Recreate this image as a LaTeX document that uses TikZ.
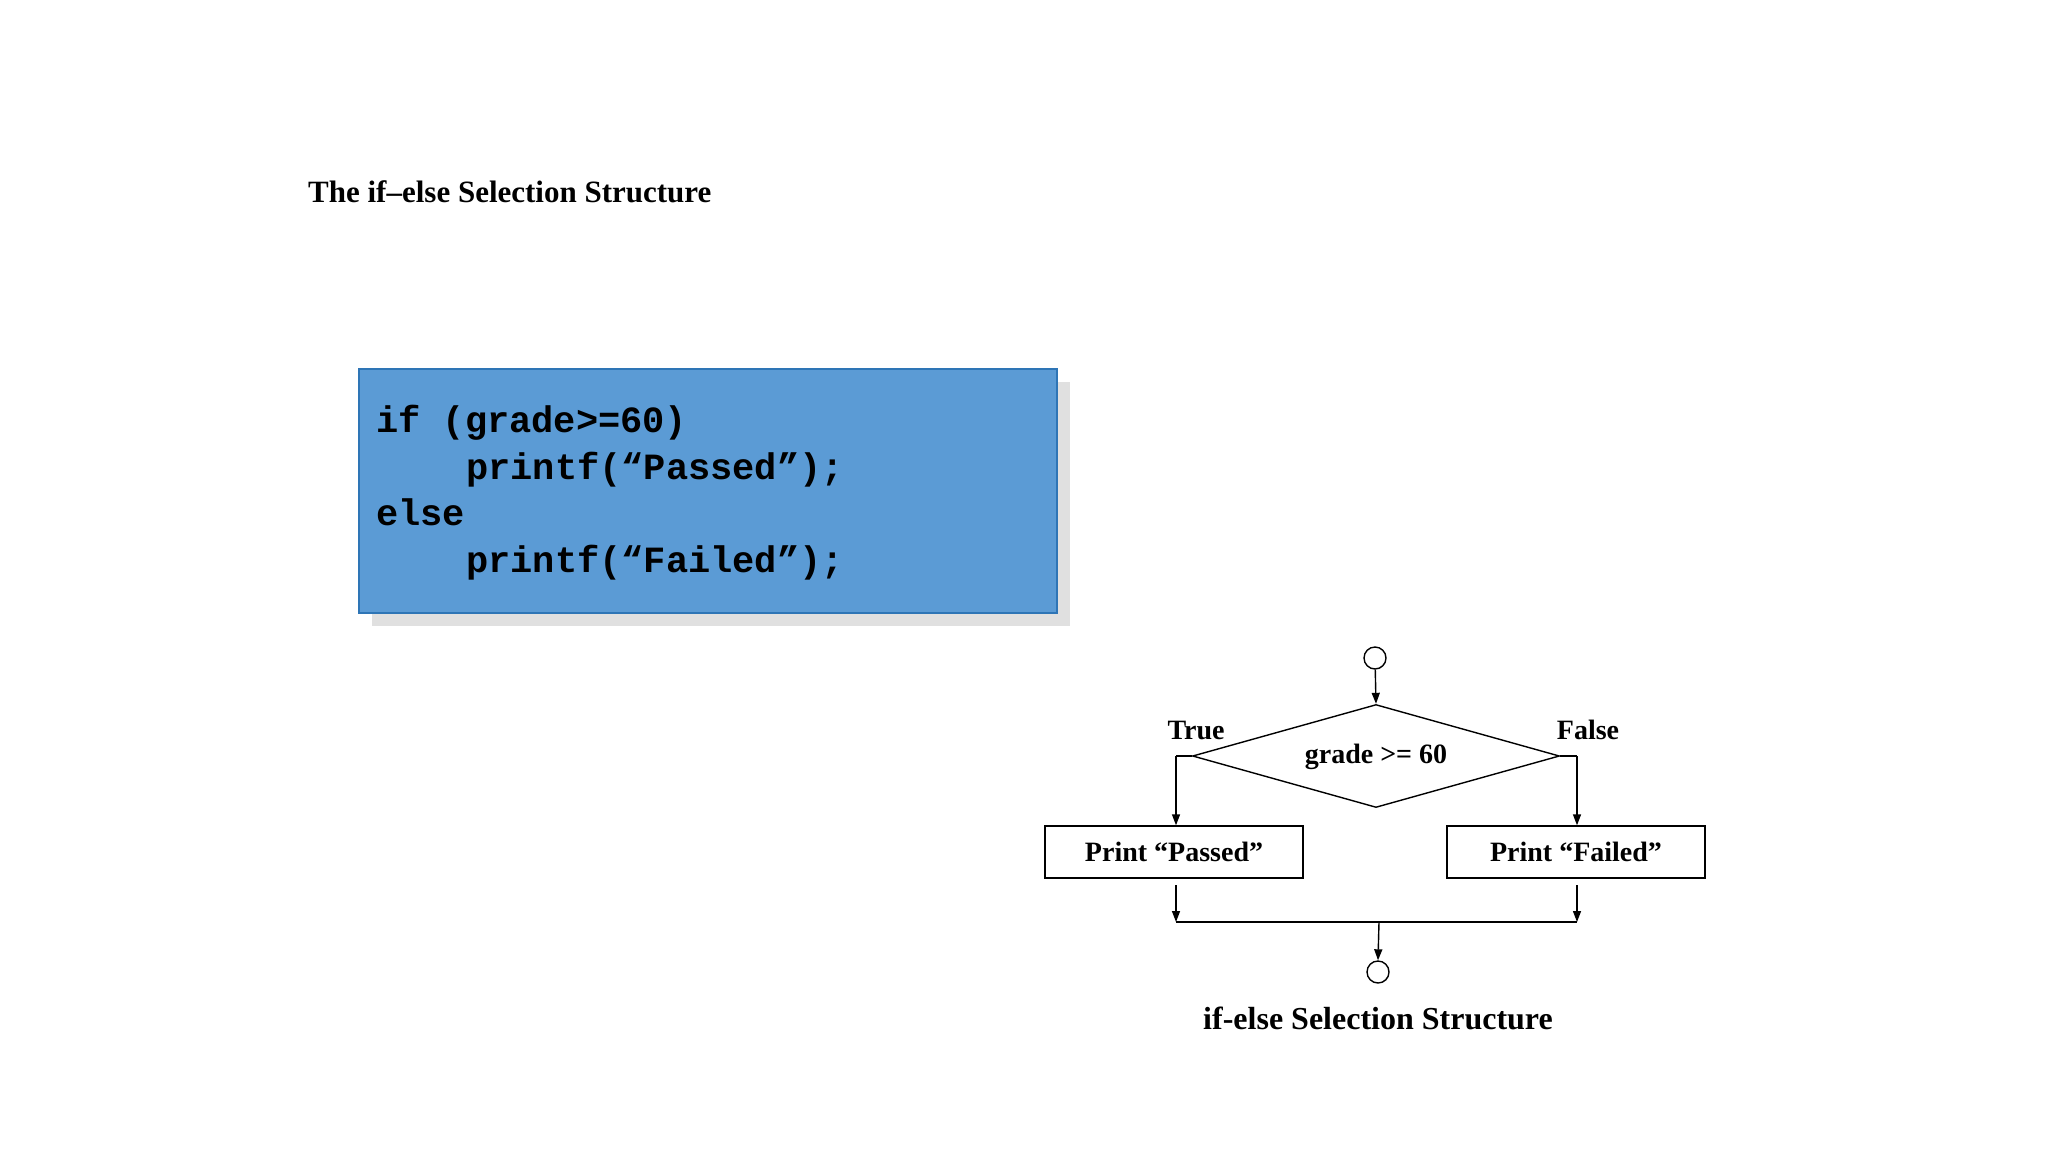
\documentclass[tikz,border=0pt]{standalone}
\usepackage{fontspec}
\setmainfont{Liberation Serif}
\newfontfamily\codefont{Liberation Mono}
\usetikzlibrary{shapes.geometric,arrows.meta}
\definecolor{boxblue}{HTML}{5B9BD5}
\definecolor{boxedge}{HTML}{2E75B6}
\begin{document}
\begin{tikzpicture}[x=1pt,y=-1pt,
  lbl/.style={font=\fontsize{28}{30}\selectfont\bfseries, inner sep=0},
  proc/.style={draw, line width=1.4pt, minimum width=258, minimum height=52, inner sep=0, font=\fontsize{28}{30}\selectfont\bfseries},
  term/.style={draw, circle, line width=1.4pt, minimum size=22, inner sep=0},
  arr/.style={line width=1.4pt, -{Triangle[length=11pt,width=8pt]}},
  ln/.style={line width=1.4pt},
  code/.style={font=\codefont\fontsize{37}{46}\selectfont\bfseries, anchor=base west, inner sep=0}]
\useasboundingbox (0,0) rectangle (2048,1152);
\node[lbl, anchor=west, font=\fontsize{31}{33}\selectfont\bfseries] (title) at (308,192) {The if\textendash else Selection Structure};
% code box
\fill[black!12] (372,382) rectangle (1070,626);
\node[draw=boxedge, fill=boxblue, line width=1.5pt, minimum width=698, minimum height=244, inner sep=0] (codebox) at (708,491) {};
\node[code] (c1) at (376,432) {if (grade>=60)};
\node[code] (c2) at (466,479) {printf(\char"201C Passed\char"201D);};
\node[code] (c3) at (376,525) {else};
\node[code] (c4) at (466,572) {printf(\char"201C Failed\char"201D);};
% flowchart
\node[term] (start) at (1375,658) {};
\node[draw, diamond, line width=1.4pt, minimum width=367, minimum height=103, inner sep=0, aspect=3.56] (dec) at (1376,756) {};
\node[lbl] (cond) at (1376,757) {grade >= 60};
\node[lbl] (true) at (1196,730) {True};
\node[lbl] (false) at (1588,730) {False};
\node[proc] (pass) at (1174,852) {Print \char"201C Passed\char"201D};
\node[proc] (fail) at (1576,852) {Print \char"201C Failed\char"201D};
\node[term] (end) at (1378,972) {};
\node[lbl, font=\fontsize{32}{34}\selectfont\bfseries] (cap) at (1378,1018) {if-else Selection Structure};
\coordinate (lt) at (1176,756);
\coordinate (rt) at (1577,756);
\coordinate (pl) at (1176,885);
\coordinate (fl) at (1577,885);
\coordinate (jl) at (1176,922);
\coordinate (jr) at (1577,922);
\coordinate (jm) at (1379,922);
\draw[arr] (start) -- (dec.north);
\draw[ln] (dec.west) -- (lt);
\draw[ln] (dec.east) -- (rt);
\draw[arr] (lt) -- (lt |- pass.north);
\draw[arr] (rt) -- (rt |- fail.north);
\draw[arr] (pl) -- (jl);
\draw[arr] (fl) -- (jr);
\draw[ln] (jl) -- (jr);
\draw[arr] (jm) -- (end.north);
\end{tikzpicture}
\end{document}
